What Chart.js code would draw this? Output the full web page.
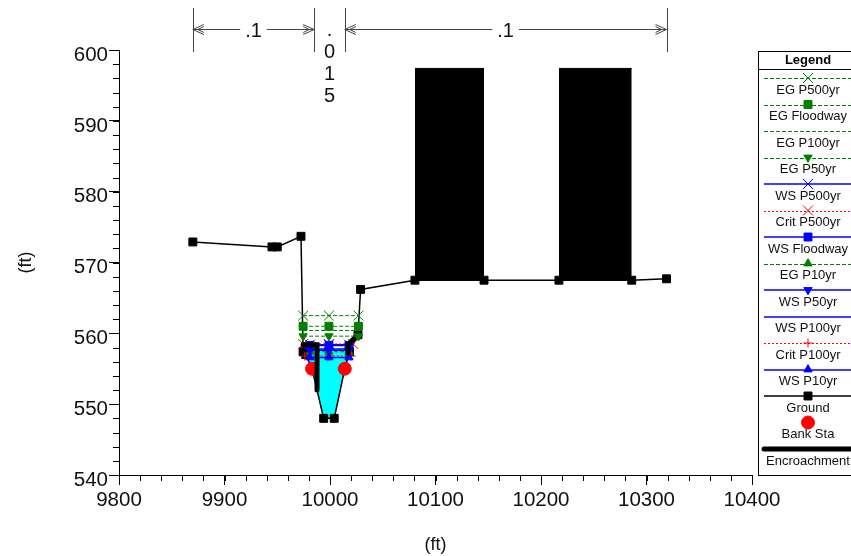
<!DOCTYPE html>
<html>
<head>
<meta charset="utf-8">
<script src="https://cdn.jsdelivr.net/npm/chart.js@4"></script>
<style>
html, body { margin: 0; padding: 0; background: #fff; overflow: hidden; }
canvas { display: block; }
</style>
</head>
<body>
<canvas id="chart" width="851" height="556"></canvas>
<script>
// Cross section values
const groundX = [9870, 9945, 9950, 9972.5, 9974.5, 9977, 9983, 9994, 10004, 10014, 10018.5, 10026.5, 10029, 10080.5, 10146, 10217, 10286, 10319];
const groundY = [572.9, 572.2, 572.2, 573.7, 557.4, 557, 555, 548, 548, 555, 557.4, 559.8, 566.2, 567.5, 567.5, 567.5, 567.5, 567.7];

const egX = [9974.5, 9999, 10027];
const wsX = [9981, 9999, 10018];
const critX = [9974.5, 9999, 10022];
const crit100X = [9976, 9999, 10020];

const egP500 = [562.5, 562.5, 562.5];
const egFloodway = [561, 561, 561];
const egP100 = [560.4, 560.4, 560.4];
const egP50 = [559.6, 559.6, 559.6];
const wsP500 = [558.4, 558.4, 558.4];
const critP500 = [558.5, 558.5, 558.5];
const wsFloodway = [558.3, 558.3, 558.3];
const egP10 = [557.4, 557.4, 557.4];
const wsP50 = [557.6, 557.6, 557.6];
const wsP100 = [557.8, 557.8, 557.8];
const critP100 = [556.8, 556.8, 556.8];
const wsP10 = [556.6, 556.6, 556.6];

const bankX = [9983, 10014];
const bankY = [555, 555];

const encroachX = [9974.5, 9987.7, 9987.7, null, 10017, 10017, 10026.5];
const encroachY = [558.4, 558.4, 552, null, 557.2, 558.4, 559.8];

const waterX = [9976, 9983, 9994, 10004, 10014, 10018.5];
const waterY = [557.6, 555, 548, 548, 555, 557.6];
const waterLevel = 557.6;

const buildingTop = 597.4;
const buildingBase = 567.5;
const building1X = [10080.5, 10146];
const building2X = [10217, 10286];

const nStations = [9870, 9985, 10014, 10319];
const nLabels = ['.1', '.015', '.1'];

const xMin = 9800, xMax = 10400, xStep = 100, xMinor = 20;
const yMin = 540, yMax = 600, yStep = 10, yMinor = 2;

const legendOrder = ['EG P500yr', 'EG Floodway', 'EG P100yr', 'EG P50yr', 'WS P500yr', 'Crit P500yr', 'WS Floodway',
  'EG P10yr', 'WS P50yr', 'WS P100yr', 'Crit P100yr', 'WS P10yr', 'Ground', 'Bank Sta', 'Encroachment'];

const GREEN = '#008000', BLUE = '#0000ff', RED = '#ff0000';
const FONT = '"Liberation Sans", Arial, sans-serif';
const TEXT = '#111';

function pts(xs, ys) {
  return xs.map((x, i) => ({ x: x, y: ys[i] }));
}

function series(label, xs, ys, color, width, dash, style, radius, rotation, order) {
  return {
    label: label,
    data: pts(xs, ys),
    borderColor: color,
    backgroundColor: color,
    borderWidth: width,
    borderDash: dash,
    showLine: width > 0,
    pointStyle: style,
    pointRadius: style ? radius : 0,
    pointRotation: rotation,
    pointBackgroundColor: color,
    pointBorderColor: color,
    pointBorderWidth: 1,
    order: order,
    tension: 0
  };
}

function block(xs, ys, color, level, order) {
  return {
    data: pts(xs, ys),
    borderColor: color,
    backgroundColor: color,
    borderWidth: 1,
    pointRadius: 0,
    fill: { value: level },
    order: order,
    tension: 0
  };
}

const DASH = [4, 2], DOT = [2, 2];
const encroachment = series('Encroachment', encroachX, encroachY, '#000', 5, [], false, 0, 0, 1.5);
encroachment.borderCapStyle = 'round';
encroachment.spanGaps = false;
const bankSta = series('Bank Sta', bankX, bankY, RED, 0, [], 'circle', 6.5, 0, 14);
const ground = series('Ground', groundX, groundY, '#000', 1.5, [], 'rect', 5.6, 0, 15);

const datasets = [
  block(building1X, [buildingTop, buildingTop], '#000', buildingBase, 30),
  block(building2X, [buildingTop, buildingTop], '#000', buildingBase, 30),
  block(waterX, waterY, '#00ffff', waterLevel, 20),
  bankSta,
  ground,
  encroachment,
  series('WS P10yr', wsX, wsP10, BLUE, 1.5, [], 'triangle', 4.8, 0, 2),
  series('Crit P100yr', crit100X, critP100, RED, 1, DOT, 'cross', 4.5, 0, 2),
  series('WS P100yr', wsX, wsP100, BLUE, 1.5, [], false, 0, 0, 2),
  series('WS P50yr', wsX, wsP50, BLUE, 1.5, [], 'triangle', 4.8, 180, 2),
  series('EG P10yr', wsX, egP10, GREEN, 1, DASH, 'triangle', 4.8, 0, 5),
  series('WS Floodway', wsX, wsFloodway, BLUE, 1.5, [], 'rect', 5.6, 0, 2),
  series('Crit P500yr', critX, critP500, RED, 1, DOT, 'crossRot', 7, 0, 2),
  series('WS P500yr', wsX, wsP500, BLUE, 1.5, [], 'crossRot', 7, 0, 2),
  series('EG P50yr', egX, egP50, GREEN, 1, DASH, 'triangle', 4.8, 180, 1),
  series('EG P100yr', egX, egP100, GREEN, 1, DASH, false, 0, 0, 1),
  series('EG Floodway', egX, egFloodway, GREEN, 1, DASH, 'rect', 5.6, 0, 1),
  series('EG P500yr', egX, egP500, GREEN, 1, DASH, 'crossRot', 7, 0, 1)
];

// minor ticks sit on the same scales as the labelled ones
const minorTicks = {
  id: 'minorTicks',
  afterDraw(chart) {
    const ctx = chart.ctx, area = chart.chartArea;
    ctx.save();
    ctx.strokeStyle = '#000';
    ctx.lineWidth = 1;
    ctx.beginPath();
    for (let v = xMin; v <= xMax; v += xMinor) {
      const px = Math.round(chart.scales.x.getPixelForValue(v)) + 0.5;
      ctx.moveTo(px, area.bottom);
      ctx.lineTo(px, area.bottom + 6);
    }
    for (let v = yMin; v <= yMax; v += yMinor) {
      const py = Math.round(chart.scales.y.getPixelForValue(v)) + 0.5;
      ctx.moveTo(area.left, py);
      ctx.lineTo(area.left - 6, py);
    }
    ctx.stroke();
    ctx.restore();
  }
};

// Manning's n brackets along the top
const nBrackets = {
  id: 'nBrackets',
  afterDraw(chart) {
    const ctx = chart.ctx, x = chart.scales.x;
    const lineY = 29.5;
    ctx.save();
    ctx.strokeStyle = '#444';
    ctx.fillStyle = TEXT;
    ctx.lineWidth = 1;
    ctx.font = '20px ' + FONT;
    ctx.textAlign = 'center';
    ctx.textBaseline = 'middle';
    nStations.forEach(s => {
      const px = Math.round(x.getPixelForValue(s)) + 0.5;
      ctx.beginPath();
      ctx.moveTo(px, 8);
      ctx.lineTo(px, 52);
      ctx.stroke();
    });
    nLabels.forEach((label, i) => {
      const a = x.getPixelForValue(nStations[i]);
      const b = x.getPixelForValue(nStations[i + 1]);
      const mid = (a + b) / 2;
      if (b - a < 60) {
        // too narrow for the arrows, label stands upright letter by letter
        label.split('').forEach((ch, k) => {
          ctx.fillText(ch, mid, 30 + k * 22);
        });
        return;
      }
      const half = ctx.measureText(label).width / 2 + 5;
      ctx.beginPath();
      ctx.moveTo(a, lineY); ctx.lineTo(mid - half, lineY);
      ctx.moveTo(mid + half, lineY); ctx.lineTo(b, lineY);
      [[a, 1], [b, -1]].forEach(([tip, dir]) => {
        ctx.moveTo(tip + dir * 11, lineY - 5); ctx.lineTo(tip, lineY); ctx.lineTo(tip + dir * 11, lineY + 5);
        ctx.moveTo(tip + dir * 11, lineY - 3); ctx.lineTo(tip + dir * 5, lineY);
        ctx.lineTo(tip + dir * 11, lineY + 3);
      });
      ctx.stroke();
      ctx.fillText(label, mid, lineY + 2);
    });
    ctx.restore();
  }
};

const legendBox = {
  id: 'legendBox',
  afterDraw(chart) {
    const ctx = chart.ctx;
    const left = 758.5, top = 51.5, bottom = 475.5, right = 851;
    const midX = 808, step = 26.5, firstY = 78;
    ctx.save();
    ctx.fillStyle = '#fff';
    ctx.fillRect(left, top, right - left + 5, bottom - top);
    ctx.strokeStyle = '#000';
    ctx.lineWidth = 1;
    ctx.strokeRect(left, top, right - left + 5, bottom - top);
    ctx.beginPath();
    ctx.moveTo(left, 69.5);
    ctx.lineTo(right, 69.5);
    ctx.stroke();
    ctx.fillStyle = '#000';
    ctx.textAlign = 'center';
    ctx.textBaseline = 'middle';
    ctx.font = 'bold 13px ' + FONT;
    ctx.fillText('Legend', midX, 60);
    legendOrder.forEach((name, i) => {
      const ds = chart.data.datasets.find(d => d.label === name);
      const y = firstY + i * step;
      if (ds.showLine) {
        const lineY = Math.round(y) + (ds.borderWidth === 1 ? 0.5 : 0);
        ctx.save();
        ctx.strokeStyle = ds.borderColor;
        ctx.lineWidth = ds.borderWidth;
        ctx.setLineDash(ds.borderDash);
        ctx.lineCap = ds.borderCapStyle || 'butt';
        ctx.beginPath();
        ctx.moveTo(764, lineY);
        ctx.lineTo(right + 5, lineY);
        ctx.stroke();
        ctx.restore();
      }
      if (ds.pointStyle) {
        ctx.save();
        ctx.fillStyle = ds.pointBackgroundColor;
        ctx.strokeStyle = ds.pointBorderColor;
        ctx.lineWidth = ds.pointBorderWidth;
        Chart.helpers.drawPoint(ctx, { pointStyle: ds.pointStyle, radius: ds.pointRadius, rotation: ds.pointRotation, borderWidth: 1 }, midX, y);
        ctx.restore();
      }
      ctx.fillStyle = TEXT;
      ctx.font = '13px ' + FONT;
      ctx.fillText(name, midX, y + 12);
    });
    ctx.restore();
  }
};

new Chart(document.getElementById('chart'), {
  type: 'line',
  data: { datasets: datasets },
  plugins: [minorTicks, nBrackets, legendBox],
  options: {
    responsive: false,
    animation: false,
    parsing: { xAxisKey: 'x', yAxisKey: 'y' },
    layout: { padding: { top: 50, right: 99, left: 0, bottom: 0 } },
    plugins: { legend: { display: false }, tooltip: { enabled: false } },
    scales: {
      x: {
        type: 'linear',
        min: xMin,
        max: xMax,
        afterFit(axis) { axis.height = 81; },
        border: { color: '#000', width: 1 },
        grid: { drawOnChartArea: false, drawTicks: true, tickLength: 10, tickColor: '#000' },
        ticks: { stepSize: xStep, maxRotation: 0, padding: 3, color: TEXT, font: { family: FONT, size: 20.5 }, callback: v => String(v) },
        title: { display: true, text: '(ft)', color: TEXT, font: { family: FONT, size: 18 }, padding: { top: 12, bottom: 0 } }
      },
      y: {
        type: 'linear',
        min: yMin,
        max: yMax,
        afterFit(axis) { axis.width = 119; },
        border: { color: '#000', width: 1 },
        grid: { drawOnChartArea: false, drawTicks: true, tickLength: 10, tickColor: '#000' },
        // empty first line with a tight line height pushes the label a little below its tick
        ticks: { stepSize: yStep, padding: 1, color: TEXT, font: { family: FONT, size: 20.5, lineHeight: 0.5 }, callback: v => ['', String(v)] },
        title: { display: true, text: '(ft)', color: TEXT, font: { family: FONT, size: 18 }, padding: { top: 15, bottom: 0 } }
      }
    }
  }
});
</script>
</body>
</html>
